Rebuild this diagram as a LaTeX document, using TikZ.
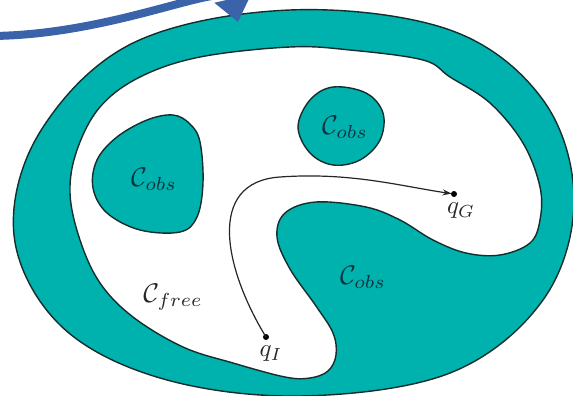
\documentclass[tikz,border=0pt]{standalone}
\usetikzlibrary{arrows.meta}
\definecolor{tealfill}{RGB}{0,178,173}
\definecolor{edgecol}{RGB}{20,45,45}
\definecolor{bluearrow}{RGB}{58,99,170}
\definecolor{obstext}{RGB}{10,50,65}
\definecolor{freetext}{RGB}{40,40,40}
\begin{document}
\begin{tikzpicture}[x=1pt,y=-1pt,
  obsregion/.style={draw=edgecol, line width=1.4pt, fill=tealfill},
  freeregion/.style={draw=edgecol, line width=1.4pt, fill=white},
  obslabel/.style={text=obstext, scale=2.7, inner sep=0pt},
  freelabel/.style={text=freetext, scale=2.7, inner sep=0pt},
  qlabel/.style={text=freetext, scale=2.5, inner sep=0pt},
  qdot/.style={fill=black},
  pathline/.style={draw=black!85, line width=1.2pt, shorten >=2.5pt, -{Stealth[length=9pt,width=6pt]}},
  bigarrow/.style={draw=bluearrow, line width=8pt, -{Triangle[length=24pt,width=36pt]}}
]
\useasboundingbox (0,0) rectangle (573,396);
\fill[white] (0,0) rectangle (573,396);

% outer boundary (teal ring + big obstacle)
\draw[obsregion] plot[smooth cycle, tension=0.6] coordinates {
  (290,10) (450,30) (543,100) (574,200) (543,300) (450,373) (300,396)
  (160,378) (60,325) (14,235) (40,132) (133,43)};

% free space
\draw[freeregion] plot[smooth cycle, tension=0.6] coordinates {
  (290,47) (350,50) (423,60) (450,77) (490,103) (523,143) (540,187)
  (540,220) (530,243) (500,255) (466,253) (433,240) (400,220) (366,207)
  (316,202) (285,213) (277,237) (290,269) (316,306) (333,333) (336,355)
  (328,371) (310,378) (285,377) (233,363) (183,347) (133,317) (100,283) (80,240)
  (70,193) (77,150) (100,107) (140,77) (200,57)};

% left obstacle
\draw[obsregion] plot[smooth cycle, tension=0.6] coordinates {
  (173,115) (190,124) (200,142) (203,183) (197,217) (180,232) (140,230)
  (107,213) (93,188) (97,160) (117,137) (147,120)};

% top obstacle
\draw[obsregion] plot[smooth cycle, tension=0.6] coordinates {
  (298,127) (310,100) (333,87) (366,93) (383,113) (380,140) (360,160)
  (333,165) (310,153)};

% labels
\node[obslabel] (obsL) at (154,179) {$\mathcal{C}_{obs}$};
\node[obslabel] (obsT) at (345,127) {$\mathcal{C}_{obs}$};
\node[obslabel] (obsB) at (363,277) {$\mathcal{C}_{obs}$};
\node[freelabel] (free) at (173,297) {$\mathcal{C}_{free}$};

% start and goal
\coordinate (qI) at (266,337);
\coordinate (qG) at (454,194);
\fill[qdot] (qI) circle (3pt);
\fill[qdot] (qG) circle (3pt);
\node[qlabel] (qIl) at (271,354) {$q_I$};
\node[qlabel] (qGl) at (461,211) {$q_G$};
\draw[pathline] (qI) .. controls (225,270) and (205,182) .. (280,177)
  .. controls (350,172) and (400,186) .. (qG);

% blue arrow
\coordinate (bs) at (-6,36);
\coordinate (be) at (238,22);
\draw[bigarrow] (bs) .. controls (120,34) and (228,-22) .. (be);
\end{tikzpicture}
\end{document}
